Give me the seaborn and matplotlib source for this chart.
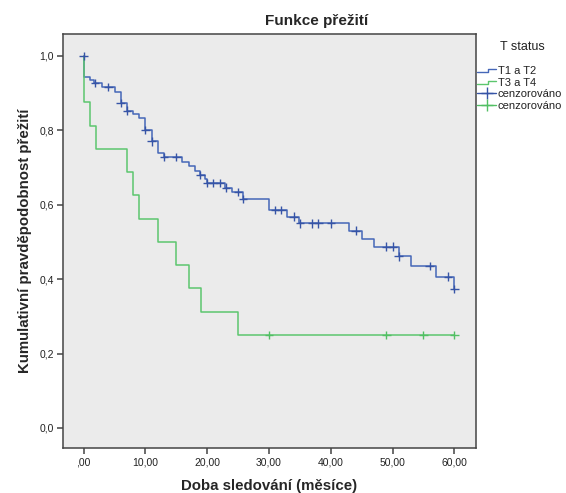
import numpy as np
import pandas as pd
import matplotlib
matplotlib.use("Agg")
import matplotlib.pyplot as plt
import seaborn as sns
from matplotlib.lines import Line2D
from matplotlib.legend_handler import HandlerBase

# ---- data ----
groups = ["T1 a T2", "T3 a T4"]

blue_step_t = [0, 1, 1.7, 3, 5, 6, 7, 7.9, 9, 10, 11, 12, 13, 15.9, 17, 18, 18.9,
               19.6, 20, 22.9, 24, 25.8, 30, 32.9, 34.8, 43, 45, 47, 51, 53, 57, 60]
blue_step_s = [0.944, 0.935, 0.927, 0.916, 0.904, 0.874, 0.853, 0.844, 0.834, 0.801,
               0.770, 0.738, 0.728, 0.716, 0.704, 0.692, 0.680, 0.669, 0.659, 0.646,
               0.634, 0.616, 0.586, 0.568, 0.550, 0.530, 0.507, 0.487, 0.461, 0.435,
               0.407, 0.374]
blue_cens_t = [0, 1.8, 4, 6, 7, 10, 11, 13, 15, 18.9, 20, 21, 22, 23, 25, 25.8,
               31, 32, 34, 35, 37, 38, 40, 44, 49, 50, 51, 56, 59, 60]
blue_cens_s = [1.0, 0.927, 0.916, 0.874, 0.853, 0.801, 0.770, 0.728, 0.728, 0.680,
               0.659, 0.659, 0.659, 0.646, 0.634, 0.616, 0.586, 0.586, 0.568, 0.550,
               0.550, 0.550, 0.550, 0.530, 0.487, 0.487, 0.461, 0.435, 0.407, 0.374]

green_step_t = [0, 1, 2, 7, 8, 9, 12, 15, 17, 19, 25]
green_step_s = [0.875, 0.8125, 0.75, 0.6875, 0.625, 0.5625, 0.5, 0.4375, 0.375,
                0.3125, 0.25]
green_end_t = 60
green_cens_t = [30, 49, 55, 60]
green_cens_s = [0.25, 0.25, 0.25, 0.25]

x_ticks = [0, 10, 20, 30, 40, 50, 60]
x_ticklabels = [",00", "10,00", "20,00", "30,00", "40,00", "50,00", "60,00"]
y_ticks = [0.0, 0.2, 0.4, 0.6, 0.8, 1.0]
y_ticklabels = ["0,0", "0,2", "0,4", "0,6", "0,8", "1,0"]

title = "Funkce přežití"
xlabel = "Doba sledování (měsíce)"
ylabel = "Kumulativní pravděpodobnost přežití"
legend_title = "T status"
cens_label = "cenzorováno"

BLUE = "#4567b8"
BLUE_M = "#3654a6"
GREEN = "#5cc66e"
GREEN_M = "#52bf64"

# ---- build tables ----
line_rows = []
for t, s in zip([0] + blue_step_t, [1.0] + blue_step_s):
    line_rows.append((groups[0], t, s))
for t, s in zip([0] + green_step_t + [green_end_t],
                [1.0] + green_step_s + [green_step_s[-1]]):
    line_rows.append((groups[1], t, s))
lines_df = pd.DataFrame(line_rows, columns=["grp", "t", "s"])

cens_df = pd.DataFrame({
    "grp": [groups[0]] * len(blue_cens_t) + [groups[1]] * len(green_cens_t),
    "t": blue_cens_t + green_cens_t,
    "s": blue_cens_s + green_cens_s,
})

# ---- style ----
sns.set_style("white")
plt.rcParams["font.family"] = ["Liberation Sans", "DejaVu Sans"]

W, H = 566, 493
fig = plt.figure(figsize=(W / 100, H / 100), dpi=100)
ax = fig.add_axes([62.7 / W, 1 - 448 / H, (476 - 62.7) / W, (448 - 34) / H])
ax.set_facecolor("#ebebeb")

sns.lineplot(data=lines_df, x="t", y="s", hue="grp", hue_order=groups,
             palette=[BLUE, GREEN], estimator=None, sort=False,
             drawstyle="steps-post", linewidth=1.1, legend=False, ax=ax)
sns.scatterplot(data=cens_df, x="t", y="s", hue="grp", hue_order=groups,
                palette=[BLUE_M, GREEN_M], marker="+", s=38, linewidth=1.0,
                legend=False, ax=ax, zorder=3)

ax.set_xlim(-3.4, 63.5)
ax.set_ylim(-0.054, 1.059)
ax.set_xticks(x_ticks)
ax.set_xticklabels(x_ticklabels)
ax.set_yticks(y_ticks)
ax.set_yticklabels(y_ticklabels)
ax.tick_params(axis="both", direction="out", length=4, width=1.1, color="#444444",
               labelsize=7.5, labelcolor="#222222", pad=2.5,
               bottom=True, left=True)
for sp in ax.spines.values():
    sp.set_color("#444444")
    sp.set_linewidth(1.1)

ax.set_xlabel(xlabel, fontsize=10.8, fontweight="bold", labelpad=8.8)
ax.set_ylabel(ylabel, fontsize=10.8, fontweight="bold", labelpad=5.5)

fig.text(317 / W, 1 - 21 / H, title, ha="center", va="center",
         fontsize=11, fontweight="bold")
fig.text(522 / W, 1 - 47 / H, legend_title, ha="center", va="center",
         fontsize=9, color="#222222")


class StepHandler(HandlerBase):
    def create_artists(self, legend, orig_handle, xdescent, ydescent, width,
                       height, fontsize, trans):
        x0 = -xdescent
        xm = x0 + 0.55 * width
        y0 = -ydescent + 0.25 * height
        y1 = -ydescent + 0.6 * height
        ln = Line2D([x0, xm, xm, x0 + width], [y0, y0, y1, y1],
                    color=orig_handle.get_color(), lw=1.0)
        ln.set_transform(trans)
        return [ln]


h1 = Line2D([], [], color=BLUE)
h2 = Line2D([], [], color=GREEN)
h3 = Line2D([], [], color=BLUE_M, marker="+", markersize=8, lw=1.0,
            markeredgewidth=1.0)
h4 = Line2D([], [], color=GREEN_M, marker="+", markersize=8, lw=1.0,
            markeredgewidth=1.0)
leg = fig.legend([h1, h2, h3, h4], [groups[0], groups[1], cens_label, cens_label],
                 handler_map={h1: StepHandler(), h2: StepHandler()},
                 loc="upper left", bbox_to_anchor=(477 / W, 1 - 66 / H),
                 frameon=False, fontsize=8, handlelength=1.75,
                 handletextpad=0.1, labelspacing=0.15,
                 borderpad=0, borderaxespad=0, numpoints=1)
for txt in leg.get_texts():
    txt.set_color("#222222")

fig.savefig("out.png", dpi=100)
